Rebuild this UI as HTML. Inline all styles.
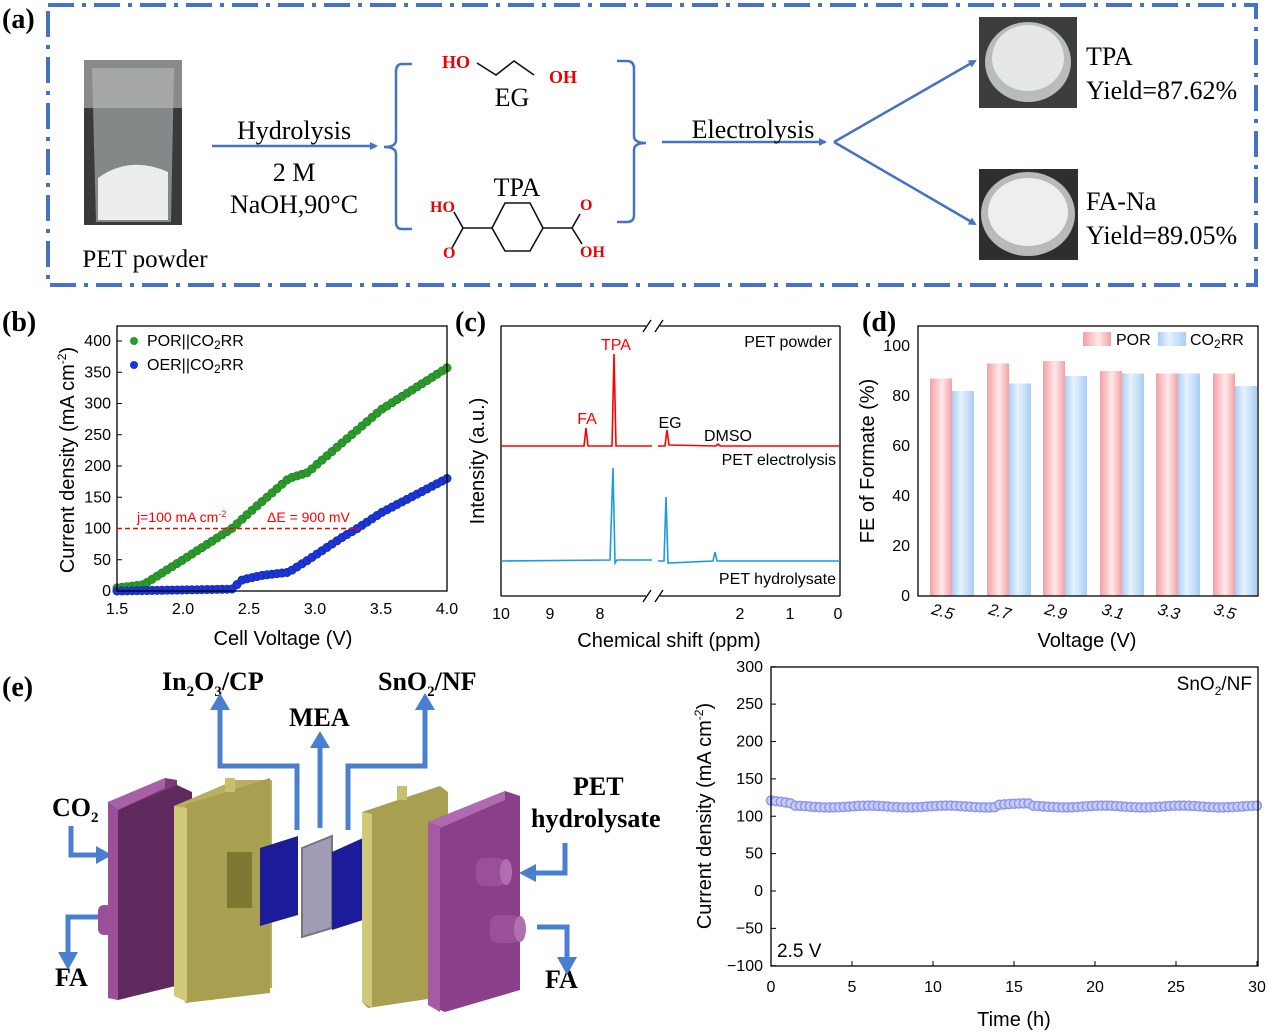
<!DOCTYPE html>
<html><head><meta charset="utf-8"><style>
html,body{margin:0;padding:0;background:#fff}
svg{display:block}
.s{font-family:"Liberation Serif",serif}
.a{font-family:"Liberation Sans",sans-serif}
</style></head><body>
<svg id="sv" width="1268" height="1032" viewBox="0 0 1268 1032" xmlns="http://www.w3.org/2000/svg">
<defs>
<linearGradient id="gp" x1="0" x2="1"><stop offset="0" stop-color="#f4a0a4"/><stop offset="0.55" stop-color="#fde9ea"/><stop offset="1" stop-color="#f4a0a4"/></linearGradient>
<linearGradient id="gb" x1="0" x2="1"><stop offset="0" stop-color="#a8cff5"/><stop offset="0.4" stop-color="#e8f2fd"/><stop offset="1" stop-color="#a8cff5"/></linearGradient>
<marker id="ar" markerWidth="8" markerHeight="8" refX="6" refY="4" orient="auto" markerUnits="userSpaceOnUse"><path d="M0,0 L8,4 L0,8 Z" fill="#4472c4"/></marker>
</defs>
<!-- (a) -->
<text x="2" y="28" class="s" font-size="28" font-weight="bold">(a)</text>
<rect x="48" y="5" width="1208" height="280" fill="none" stroke="#4472c4" stroke-width="4" stroke-dasharray="26,8,4,8"/>
<rect x="84" y="60" width="98" height="165" fill="#3a3a3a"/>
<rect x="84" y="60" width="98" height="48" fill="#8a8a88"/>
<path d="M92,68 L174,68 L171,222 L96,222 Z" fill="#b8bcbc" opacity="0.6"/>
<path d="M98,178 Q130,155 168,172 L168,220 L98,220 Z" fill="#eceeee"/>
<text x="145" y="267" class="s" font-size="25" text-anchor="middle">PET powder</text>
<line x1="212" y1="146" x2="376" y2="146" stroke="#4472c4" stroke-width="2.5" marker-end="url(#ar)"/>
<text x="294" y="139" class="s" font-size="26" text-anchor="middle">Hydrolysis</text>
<text x="294" y="181" class="s" font-size="26" text-anchor="middle">2 M</text>
<text x="294" y="213" class="s" font-size="26" text-anchor="middle">NaOH,90°C</text>
<path d="M412,64 L402,64 Q396,64 396,72 L396,140 Q396,147 384,147 Q396,147 396,154 L396,222 Q396,229 402,229 L412,229" fill="none" stroke="#4472c4" stroke-width="2.5"/>
<path d="M617,61 L627,61 Q634,61 634,69 L634,136 Q634,143 646,143 Q634,143 634,150 L634,215 Q634,222 627,222 L617,222" fill="none" stroke="#4472c4" stroke-width="2.5"/>
<text x="442" y="68" class="s" font-size="18" font-weight="bold" fill="#e00">HO</text>
<path d="M477,63 L496,75 L514,61 L534,75" fill="none" stroke="#111" stroke-width="1.6"/>
<text x="549" y="83" class="s" font-size="18" font-weight="bold" fill="#e00">OH</text>
<text x="512" y="106" class="s" font-size="26" text-anchor="middle">EG</text>
<text x="517" y="196" class="s" font-size="26" text-anchor="middle">TPA</text>
<path d="M505,203 L530,203 L543,228 L530,251 L505,251 L492,228 Z" fill="none" stroke="#111" stroke-width="1.6"/>
<path d="M492,228 L463,228 M463,228 L454,212 M463,228 L452,248 M543,228 L572,228 M572,228 L580,214 M572,228 L582,244" fill="none" stroke="#111" stroke-width="1.6"/>
<text x="430" y="212" class="s" font-size="16" font-weight="bold" fill="#e00">HO</text>
<text x="443" y="258" class="s" font-size="16" font-weight="bold" fill="#e00">O</text>
<text x="580" y="210" class="s" font-size="16" font-weight="bold" fill="#e00">O</text>
<text x="580" y="257" class="s" font-size="16" font-weight="bold" fill="#e00">OH</text>
<line x1="662" y1="142" x2="825" y2="142" stroke="#4472c4" stroke-width="2.5" marker-end="url(#ar)"/>
<text x="753" y="138" class="s" font-size="26" text-anchor="middle">Electrolysis</text>
<line x1="834" y1="142" x2="975" y2="61" stroke="#4472c4" stroke-width="2.5" marker-end="url(#ar)"/>
<line x1="834" y1="142" x2="975" y2="224" stroke="#4472c4" stroke-width="2.5" marker-end="url(#ar)"/>
<rect x="979" y="17" width="98" height="91" fill="#3d3d3d"/>
<ellipse cx="1028" cy="62" rx="43" ry="40" fill="#b9bcbc"/>
<ellipse cx="1028" cy="58" rx="36" ry="33" fill="#e6e7e7"/>
<rect x="979" y="169" width="99" height="91" fill="#2e2e2e"/>
<ellipse cx="1028" cy="214" rx="47" ry="42" fill="#b8bab8"/>
<ellipse cx="1028" cy="212" rx="40" ry="34" fill="#eeeeee"/>
<text x="1086" y="65" class="s" font-size="26">TPA</text>
<text x="1086" y="99" class="s" font-size="26">Yield=87.62%</text>
<text x="1086" y="210" class="s" font-size="26">FA-Na</text>
<text x="1086" y="244" class="s" font-size="26">Yield=89.05%</text>

<!-- (b) -->
<text x="2" y="331" class="s" font-size="28" font-weight="bold">(b)</text>
<g id="pb"></g>
<rect x="117" y="326" width="330" height="265" fill="none" stroke="#000" stroke-width="1.3"/>
<g class="a" font-size="16" text-anchor="end" id="byt"></g>
<g class="a" font-size="16" text-anchor="middle">
<text x="117" y="614">1.5</text><text x="183" y="614">2.0</text><text x="249" y="614">2.5</text><text x="315" y="614">3.0</text><text x="381" y="614">3.5</text><text x="447" y="614">4.0</text></g>
<text x="283" y="645" class="a" font-size="20" text-anchor="middle">Cell Voltage (V)</text>
<text transform="translate(74,460) rotate(-90)" class="a" font-size="20" text-anchor="middle">Current density (mA cm<tspan dy="-8" font-size="12">-2</tspan><tspan dy="8">)</tspan></text>
<line x1="117" y1="528.5" x2="360" y2="528.5" stroke="#f00" stroke-width="1.5" stroke-dasharray="5,3"/>
<text x="137" y="522" class="a" font-size="14" fill="#f00">j=100 mA cm<tspan dy="-5" font-size="9">-2</tspan></text>
<text x="267" y="522" class="a" font-size="14" fill="#f00">ΔE = 900 mV</text>
<circle cx="134" cy="341" r="4" fill="#2a9a2a"/><text x="147" y="346" class="a" font-size="16">POR||CO<tspan font-size="12" dy="3">2</tspan><tspan dy="-3">RR</tspan></text>
<circle cx="134" cy="365" r="4" fill="#1a35d8"/><text x="147" y="370" class="a" font-size="16">OER||CO<tspan font-size="12" dy="3">2</tspan><tspan dy="-3">RR</tspan></text>

<!-- (c) -->
<text x="455" y="331" class="s" font-size="28" font-weight="bold">(c)</text>
<path d="M501,326 L646,326 M660,326 L840,326 M501,596 L646,596 M660,596 L840,596 M501,326 L501,596 M840,326 L840,596" fill="none" stroke="#000" stroke-width="1.3"/>
<path d="M643,332 L651,320 M655,332 L663,320 M643,602 L651,590 M655,602 L663,590" stroke="#000" stroke-width="1.3"/>
<path d="M501,446 L584,446 L586,428 L588,446 L612,446 L614,354 L616,446 L652,446 M658,446 L665,446 L667,430 L669,445 L716,446 L718,444 L720,446 L840,446" fill="none" stroke="#f00" stroke-width="1.6"/>
<path d="M501,561 L610,560 L613,468 L615,563 L617,560 L652,560 M658,561 L664,561 L666,497 L668,563 L713,561 L715,552 L717,561 L840,561" fill="none" stroke="#1a9ae8" stroke-width="1.6"/>
<text x="616" y="350" class="a" font-size="16" fill="#f00" text-anchor="middle">TPA</text>
<text x="587" y="424" class="a" font-size="16" fill="#f00" text-anchor="middle">FA</text>
<text x="670" y="428" class="a" font-size="16" text-anchor="middle">EG</text>
<text x="728" y="441" class="a" font-size="16" text-anchor="middle">DMSO</text>
<text x="832" y="347" class="a" font-size="16" text-anchor="end">PET powder</text>
<text x="836" y="465" class="a" font-size="16" text-anchor="end">PET electrolysis</text>
<text x="836" y="584" class="a" font-size="16" text-anchor="end">PET hydrolysate</text>
<g class="a" font-size="16" text-anchor="middle">
<text x="501" y="619">10</text><text x="550" y="619">9</text><text x="600" y="619">8</text><text x="740" y="619">2</text><text x="790" y="619">1</text><text x="838" y="619">0</text></g>
<text x="669" y="647" class="a" font-size="20" text-anchor="middle">Chemical shift (ppm)</text>
<text transform="translate(484,461) rotate(-90)" class="a" font-size="20" text-anchor="middle">Intensity (a.u.)</text>

<!-- (d) -->
<text x="862" y="331" class="s" font-size="28" font-weight="bold">(d)</text>
<g id="pd"></g>
<rect x="918" y="326" width="340" height="270" fill="none" stroke="#000" stroke-width="1.3"/>
<g class="a" font-size="16" text-anchor="end">
<text x="910" y="601">0</text><text x="910" y="551">20</text><text x="910" y="501">40</text><text x="910" y="451">60</text><text x="910" y="401">80</text><text x="910" y="351">100</text></g>
<g class="a" font-size="16" text-anchor="middle" font-style="italic">
<text x="943" y="617" transform="rotate(15,943,611)">2.5</text><text x="1000" y="617" transform="rotate(15,1000,611)">2.7</text><text x="1056" y="617" transform="rotate(15,1056,611)">2.9</text><text x="1113" y="617" transform="rotate(15,1113,611)">3.1</text><text x="1169" y="617" transform="rotate(15,1169,611)">3.3</text><text x="1225" y="617" transform="rotate(15,1225,611)">3.5</text></g>
<text x="1087" y="647" class="a" font-size="20" text-anchor="middle">Voltage (V)</text>
<text transform="translate(874,461) rotate(-90)" class="a" font-size="20" text-anchor="middle">FE of Formate (%)</text>
<rect x="1083" y="332" width="28" height="14" fill="url(#gp)"/><text x="1116" y="345" class="a" font-size="16">POR</text>
<rect x="1158" y="332" width="28" height="14" fill="url(#gb)"/><text x="1190" y="345" class="a" font-size="16">CO<tspan font-size="12" dy="3">2</tspan><tspan dy="-3">RR</tspan></text>

<!-- (e) -->
<text x="2" y="696" class="s" font-size="28" font-weight="bold">(e)</text>
<g class="s" font-weight="bold" font-size="26">
<text x="162" y="690">In<tspan font-size="15" dy="6">2</tspan><tspan dy="-6">O</tspan><tspan font-size="15" dy="6">3</tspan><tspan dy="-6">/CP</tspan></text>
<text x="378" y="690">SnO<tspan font-size="15" dy="6">2</tspan><tspan dy="-6">/NF</tspan></text>
<text x="289" y="726">MEA</text>
<text x="52" y="816">CO<tspan font-size="15" dy="6">2</tspan></text>
<text x="573" y="795">PET</text>
<text x="531" y="827">hydrolysate</text>
<text x="55" y="986">FA</text>
<text x="545" y="988">FA</text>
</g>
<g fill="none" stroke="#4a7fd0" stroke-width="5">
<path d="M297,830 L297,766 L220,766 L220,707"/><path d="M320,828 L320,745"/><path d="M348,830 L348,766 L425,766 L425,707"/>
<path d="M71,826 L71,855 L98,855"/><path d="M100,917 L68,917 L68,955"/>
<path d="M565,843 L565,873 L533,873"/><path d="M537,927 L567,927 L567,960"/>
</g>
<g fill="#4a7fd0">
<path d="M210,710 L220,693 L230,710Z"/><path d="M310,748 L320,731 L330,748Z"/><path d="M415,710 L425,693 L435,710Z"/>
<path d="M96,846 L112,855 L96,864Z"/><path d="M58,952 L68,970 L78,952Z"/><path d="M536,864 L519,873 L536,882Z"/><path d="M557,957 L567,975 L577,957Z"/>
</g>
<path d="M108,802 L165,778 L177,780 L177,978 L118,1000 L108,998Z" fill="#7a3a78"/>
<path d="M108,802 L165,778 L165,788 L118,810 Z" fill="#a860a6"/>
<path d="M118,810 L177,785 L192,792 L192,982 L118,1000Z" fill="#5f2a5e"/>
<path d="M108,802 L118,810 L118,1000 L108,998Z" fill="#9a5098"/>
<ellipse cx="183" cy="852" rx="4" ry="10" fill="#9a5098"/><ellipse cx="183" cy="925" rx="4" ry="12" fill="#9a5098"/>
<rect x="98" y="905" width="14" height="30" rx="6" fill="#9a5098"/>
<path d="M174,806 L235,780 L272,780 L272,988 L211,1000 L174,995Z" fill="#b8b060"/>
<path d="M185,805 L270,778 L270,993 L185,1003Z" fill="#a8a050"/>
<path d="M174,806 L187,808 L187,1002 L174,996Z" fill="#cfc97a"/>
<rect x="227" y="852" width="25" height="56" fill="#7e7832"/>
<rect x="225" y="778" width="10" height="14" fill="#c8c070"/>
<path d="M260,848 L298,836 L298,915 L260,926Z" fill="#1c1c9a"/>
<path d="M302,848 L332,836 L332,928 L302,937Z" fill="#a09cb4" stroke="#777" stroke-width="2"/>
<path d="M332,852 L363,838 L363,920 L332,930Z" fill="#1c1c9a"/>
<path d="M362,812 L440,786 L448,792 L448,996 L368,1008 L362,1002Z" fill="#a8a050"/>
<path d="M362,812 L372,814 L372,1008 L362,1002Z" fill="#cfc97a"/>
<rect x="397" y="786" width="10" height="14" fill="#c8c070"/>
<path d="M428,822 L505,791 L520,796 L520,990 L445,1012 L428,1005Z" fill="#8a4088"/>
<path d="M428,822 L505,791 L505,800 L440,828Z" fill="#b06aae"/>
<path d="M428,822 L440,826 L440,1012 L428,1005Z" fill="#a65aa4"/>
<rect x="476" y="858" width="30" height="28" rx="8" fill="#9a5098"/><ellipse cx="506" cy="872" rx="6" ry="13" fill="#b070ae"/>
<rect x="490" y="915" width="30" height="28" rx="8" fill="#9a5098"/><ellipse cx="520" cy="929" rx="6" ry="13" fill="#b070ae"/>

<g id="pe"></g>
<rect x="771" y="667" width="487" height="299" fill="none" stroke="#000" stroke-width="1.3"/>
<g class="a" font-size="16" text-anchor="end" id="eyt"></g>
<g class="a" font-size="16" text-anchor="middle" id="ext"></g>
<text x="1014" y="1026" class="a" font-size="20" text-anchor="middle">Time (h)</text>
<text transform="translate(711,816) rotate(-90)" class="a" font-size="20" text-anchor="middle">Current density (mA cm<tspan dy="-8" font-size="12">-2</tspan><tspan dy="8">)</tspan></text>
<text x="1252" y="690" class="a" font-size="19" text-anchor="end">SnO<tspan font-size="12" dy="5">2</tspan><tspan dy="-5">/NF</tspan></text>
<text x="777" y="957" class="a" font-size="19">2.5 V</text>
</svg>
<script>
var NS="http://www.w3.org/2000/svg";
function el(p,t,a,txt){var e=document.createElementNS(NS,t);for(var k in a)e.setAttribute(k,a[k]);if(txt!=null)e.textContent=txt;document.getElementById(p).appendChild(e);return e;}
function interp(pts,x){for(var i=0;i<pts.length-1;i++){if(x<=pts[i+1][0]){var a=pts[i],b=pts[i+1];return a[1]+(b[1]-a[1])*(x-a[0])/(b[0]-a[0]);}}return pts[pts.length-1][1];}
var g=[[1.5,5],[1.7,10],[2.0,50],[2.37,100],[2.5,125],[2.8,180],[2.95,190],[3.0,200],[3.5,290],[4.0,357]];
var bl=[[1.5,0],[2.37,3],[2.45,18],[2.6,25],[2.8,30],[2.95,50],[3.2,85],[3.32,100],[3.5,125],[4.0,180]];
for(var i=0;i<=66;i++){var v=1.5+i*2.5/66;var x=117+(v-1.5)*132;
el("pb","circle",{cx:x,cy:591-interp(g,v)*0.625,r:4.2,fill:"#2a9a2a",stroke:"#1e7a1e","stroke-width":0.6});
el("pb","circle",{cx:x,cy:591-interp(bl,v)*0.625,r:4.2,fill:"#1a35d8",stroke:"#10229a","stroke-width":0.6});}
for(var j=0;j<=400;j+=50){var y=591-j*0.625;el("byt","text",{x:111,y:y+5},j);el("pb","line",{x1:117,y1:y,x2:122,y2:y,stroke:"#000"});}
var P=[87,93,94,90,89,89],C=[82,85,88,89,89,84],s=[930,987,1043,1100,1156,1213];
for(var i=0;i<6;i++){el("pd","rect",{x:s[i],y:596-P[i]*2.5,width:22,height:P[i]*2.5,fill:"url(#gp)"});
el("pd","rect",{x:s[i]+22,y:596-C[i]*2.5,width:22,height:C[i]*2.5,fill:"url(#gb)"});}
for(var j=-100;j<=300;j+=50){var y=891-j*0.7475;el("eyt","text",{x:763,y:y+5},j<0?"−"+(-j):j);el("pe","line",{x1:771,y1:y,x2:776,y2:y,stroke:"#000"});}
for(var t=0;t<=30;t+=5){var x=771+t*16.2;el("ext","text",{x:x,y:992},t);el("pe","line",{x1:x,y1:966,x2:x,y2:961,stroke:"#000"});}
for(var i=0;i<=100;i++){var t=i*0.3;var v=113+(t<1.5?8-t*4:0)+(Math.abs(t-15)<1?3:0)+Math.sin(t*1.3)*1.2;var x=771+t*16.2;
el("pe","circle",{cx:x,cy:891-v*0.7475,r:4.5,fill:"#c8cdf8",stroke:"#8c96ee","stroke-width":1.5});}
</script>
</body></html>
